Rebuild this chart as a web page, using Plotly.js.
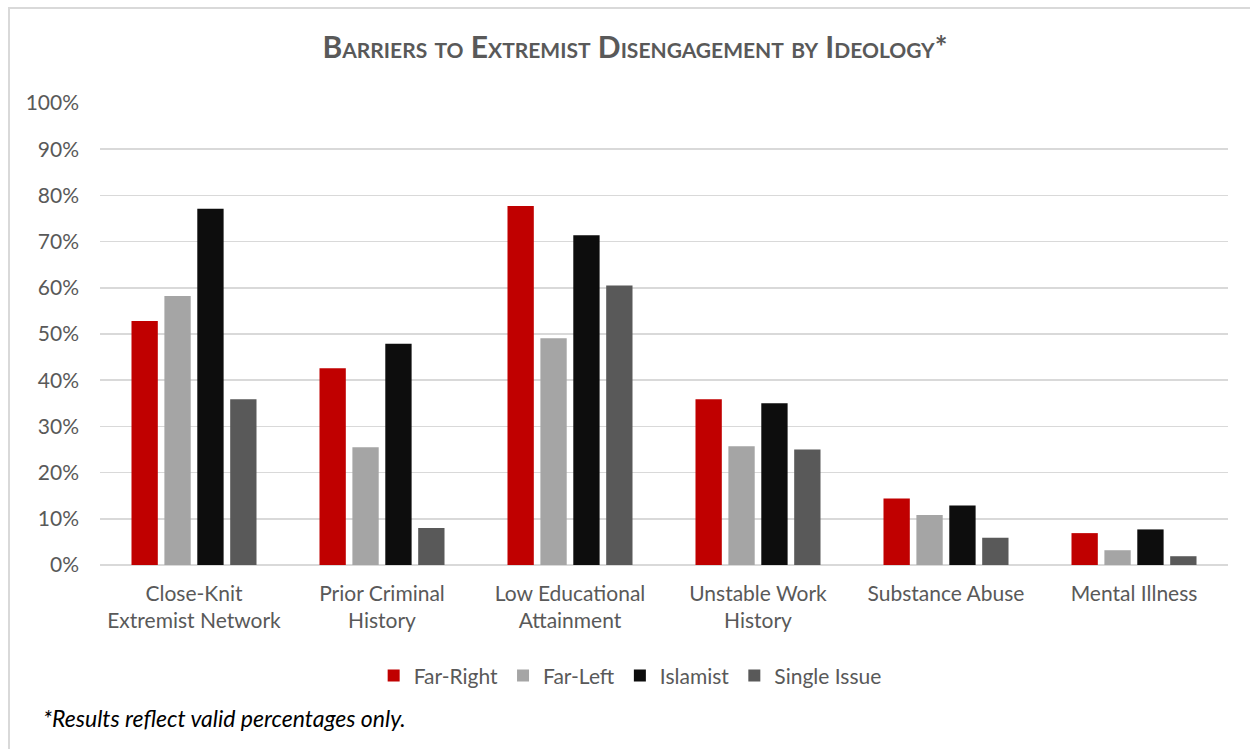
<!DOCTYPE html>
<html>
<head>
<meta charset="utf-8">
<script src="https://cdn.plot.ly/plotly-3.0.1.min.js"></script>
<style>
html,body{margin:0;padding:0;width:1250px;height:749px;overflow:hidden;background:#fff;}
#frame{position:absolute;left:8px;top:7px;width:1400px;height:900px;border-left:2px solid #D9D9D9;border-top:2px solid #D9D9D9;}
#chart{position:absolute;left:0;top:0;width:1250px;height:749px;}
</style>
</head>
<body>
<div id="frame"></div>
<div id="chart"></div>
<script>
const categories = ["Close-Knit<br>Extremist Network","Prior Criminal<br>History","Low Educational<br>Attainment","Unstable Work<br>History","Substance Abuse","Mental Illness"];
const seriesNames = ["Far-Right","Far-Left","Islamist","Single Issue"];
const farRight = [0.528,0.426,0.777,0.359,0.144,0.069];
const farLeft = [0.582,0.255,0.491,0.257,0.108,0.032];
const islamist = [0.771,0.479,0.714,0.350,0.129,0.077];
const singleIssue = [0.359,0.080,0.605,0.250,0.059,0.019];
const colors = ["#C00000","#A5A5A5","#0D0D0D","#595959"];
const values = [farRight,farLeft,islamist,singleIssue];

const FONT = "Lato, 'Open Sans', sans-serif";
const traces = values.map((v,i)=>({
  type:"bar", name:seriesNames[i], x:categories, y:v,
  marker:{color:colors[i]}, hoverinfo:"skip"
}));

const layout = {
  width:1250, height:749,
  paper_bgcolor:"rgba(0,0,0,0)", plot_bgcolor:"rgba(0,0,0,0)",
  margin:{l:100,r:22,t:103,b:184},
  font:{family:FONT,color:"#595959",size:21},
  title:{text:"<b>Barriers to Extremist Disengagement by Ideology*</b>", x:0.508, xanchor:"center", y:0.937, yanchor:"middle",
    font:{family:FONT,size:30,color:"#595959",variant:"small-caps"}},
  barmode:"group", bargap:0.3, bargroupgap:0.2,
  xaxis:{tickfont:{size:21,color:"#595959"}, showline:false, ticks:"", fixedrange:true, ticklabelstandoff:14},
  yaxis:{range:[0,1], dtick:0.1, tickformat:".0%", showgrid:true, gridcolor:"#D9D9D9", gridwidth:1.5,
    zeroline:true, zerolinecolor:"#D9D9D9", zerolinewidth:1.5, ticks:"", ticklabelstandoff:20,
    tickfont:{size:21,color:"#595959"}, fixedrange:true},
  legend:{orientation:"h", x:0.47, xanchor:"center", y:-0.24, yanchor:"middle",
    font:{size:21,color:"#595959"}, itemwidth:30, traceorder:"normal"},
  annotations:[{text:"<i>*Results reflect valid percentages only.</i>", xref:"paper", yref:"paper",
    x:-0.052, xanchor:"left", y:-0.331, yanchor:"middle", showarrow:false,
    font:{family:FONT,size:23,color:"#000000"}}]
};
Plotly.newPlot("chart", traces, layout, {displayModeBar:false, staticPlot:true});
</script>
</body>
</html>
